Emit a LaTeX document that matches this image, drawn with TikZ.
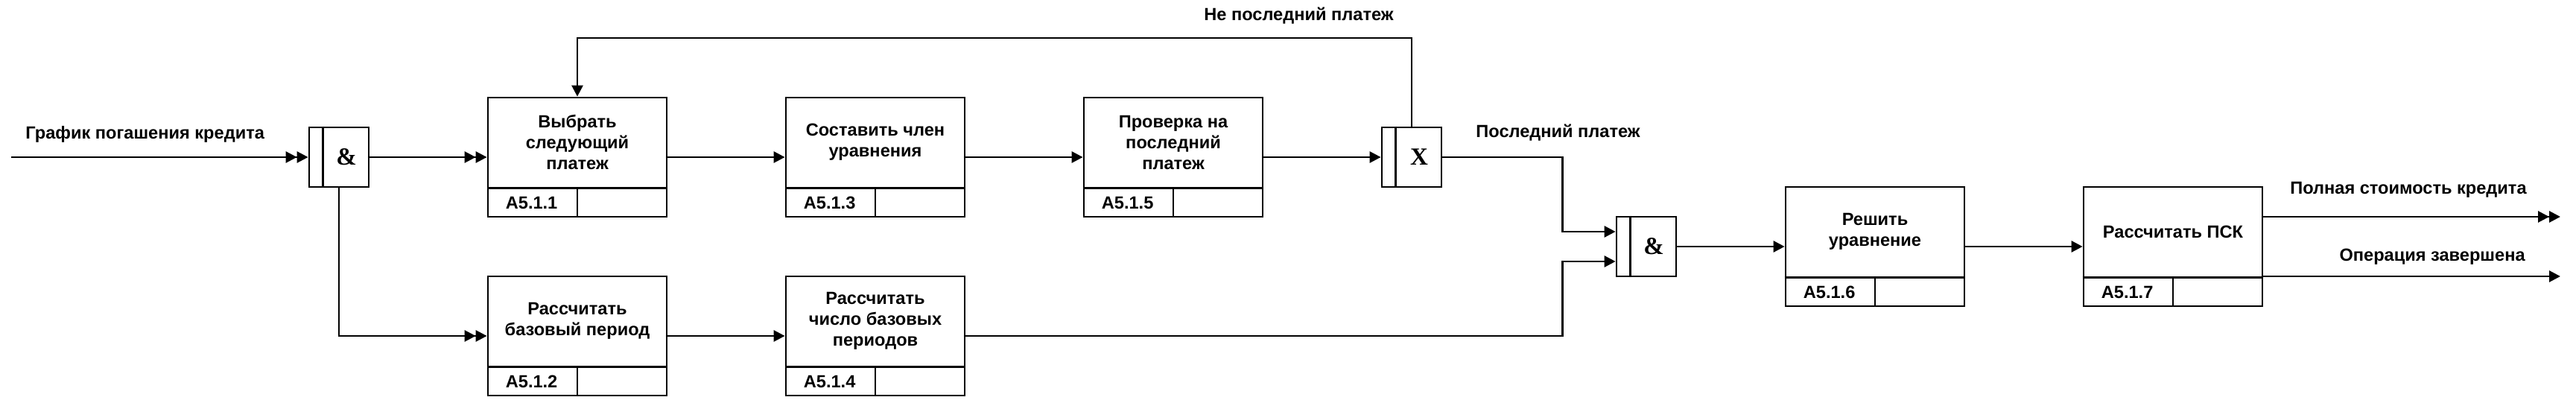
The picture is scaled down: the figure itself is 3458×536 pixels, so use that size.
\documentclass[tikz,border=0pt]{standalone}
\usepackage{fontspec}
\setmainfont{Liberation Sans}
\newfontfamily\gatefont{Liberation Serif}
\usetikzlibrary{arrows.meta,calc}

\begin{document}
\begin{tikzpicture}[x=0.5pt,y=0.5pt,line width=1.4pt,
  every node/.style={inner sep=0pt,font=\fontsize{11.8}{14}\selectfont\bfseries},
  procbox/.style={draw,minimum width=120pt,minimum height=80pt},
  gatebox/.style={draw,minimum width=40pt,minimum height=40pt},
  gatesym/.style={font=\gatefont\fontsize{16.5}{18}\selectfont\bfseries},
  arr/.style={-{Triangle[length=7.5pt,width=7.5pt]}},
  dblarr/.style={-{Triangle[length=7.5pt,width=7.5pt]Triangle[length=7.5pt,width=7.5pt]}}]
  % one unit is one pixel of the 3458 x 536 frame
  \useasboundingbox (0,0) rectangle (3458,536);
  \foreach \n/\cx/\cy/\id/\txt in {
      a1/775/325/A5.1.1/{Выбрать\\следующий\\платеж},
      a2/775/85/A5.1.2/{Рассчитать\\базовый период},
      a3/1175/325/A5.1.3/{Составить член\\уравнения},
      a4/1175/85/A5.1.4/{Рассчитать\\число базовых\\периодов},
      a5/1575/325/A5.1.5/{Проверка на\\последний\\платеж},
      a6/2517/205/A5.1.6/{Решить\\уравнение},
      a7/2917/205/A5.1.7/{Рассчитать ПСК}}{
    \node[procbox] (\n) at (\cx,\cy) {};
    \draw ($(\n.south west)+(0,40)$) -- ($(\n.south east)+(0,40)$);
    \draw ($(\n.south)+(0,40)$) -- (\n.south);
    \node[align=center] (t\n) at ($(\n.center)+(0,20)$) {\txt};
    \node (id\n) at ($(\n.south west)+(60,20)$) {\id};
  }
  \foreach \n/\cx/\cy/\sym in {j1/455/325/\&, jx/1895/325/X, j2/2210/205/\&}{
    \node[gatebox] (\n) at (\cx,\cy) {};
    \draw ($(\n.north west)+(20,0)$) -- ($(\n.south west)+(20,0)$);
    \node[gatesym] (s\n) at ($(\n.center)+(10,0)$) {\sym};
  }
  \coordinate (in) at (15,325);
  \coordinate (fb) at (1200,485);
  \coordinate (out1) at (3437,245);
  \coordinate (out2) at (3437,165);
  \draw[dblarr] (in) -- (j1.west);
  \draw[dblarr] (j1.east) -- (a1.west);
  \draw[dblarr] (j1.south) |- (a2.west);
  \draw[arr] (a1.east) -- (a3.west);
  \draw[arr] (a3.east) -- (a5.west);
  \draw[arr] (a5.east) -- (jx.west);
  \draw[arr] (jx.north) |- (fb) -| (a1.north);
  \draw[arr] (jx.east) -- ++(161,0) |- ([yshift=10pt]j2.west);
  \draw[arr] (a2.east) -- (a4.west);
  \draw[arr] (a4.east) -- ++(801,0) |- ([yshift=-10pt]j2.west);
  \draw[arr] (j2.east) -- (a6.west);
  \draw[arr] (a6.east) -- (a7.west);
  \draw[dblarr] ([yshift=20pt]a7.east) -- (out1);
  \draw[arr] ([yshift=-20pt]a7.east) -- (out2);
  \node[anchor=base west] (lin) at (33,349) {График погашения кредита};
  \node[anchor=base east] (lfb) at (1872,508) {Не последний платеж};
  \node[anchor=base west] (llast) at (1980,351) {Последний платеж};
  \node[anchor=base east] (lout1) at (3393,275) {Полная стоимость кредита};
  \node[anchor=base east] (lout2) at (3391,185) {Операция завершена};
\end{tikzpicture}
\end{document}
